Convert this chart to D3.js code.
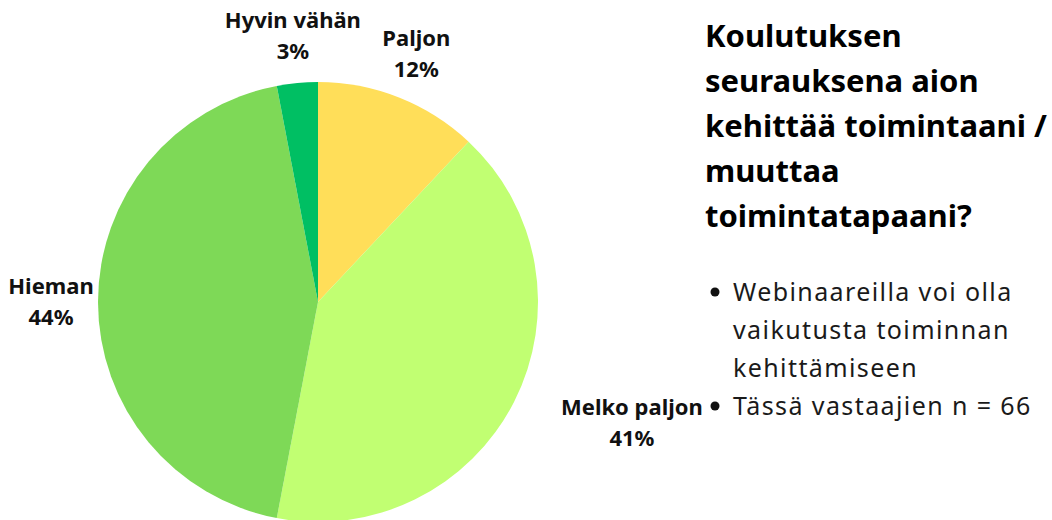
<!DOCTYPE html>
<html>
<head>
<meta charset="utf-8">
<script src="https://cdn.jsdelivr.net/npm/d3@7"></script>
<style>
  html, body { margin: 0; padding: 0; background: #fff; }
  svg { display: block; }
  .lbl { font-family: "Noto Sans", sans-serif; font-weight: 700; font-size: 22px; fill: #111; }
  .title { font-family: "Noto Sans", sans-serif; font-weight: 700; font-size: 31px; fill: #000; }
  .bullet { font-family: "Noto Sans", sans-serif; font-weight: 400; font-size: 25px; letter-spacing: 1.4px; fill: #1a1a1a; }
</style>
</head>
<body>
<svg id="chart" width="1052" height="520"></svg>
<script>
"use strict";

// data
const categories = ["Paljon", "Melko paljon", "Hieman", "Hyvin vähän"];
const shares = [12, 41, 44, 3];
const colors = ["#FFDE59", "#C1FF72", "#7ED957", "#00BF63"];
const titleLines = ["Koulutuksen", "seurauksena aion", "kehittää toimintaani /", "muuttaa", "toimintatapaani?"];
const bulletLines = [
    ["Webinaareilla voi olla", "vaikutusta toiminnan", "kehittämiseen"],
    ["Tässä vastaajien n = 66"],
];

const radius = 220;
const cx = 318, cy = 302;

const svg = d3.select("#chart");

const rows = categories.map((name, i) => ({name, value: shares[i], color: colors[i]}));

const pie = d3.pie()
    .value(d => d.value)
    .sort(null);

const arc = d3.arc().innerRadius(0).outerRadius(radius);
const labelArc = d3.arc().innerRadius(267).outerRadius(267);

// wide label on the right gets pushed clear of the pie
const labelNudge = {"Melko paljon": 76};

const g = svg.append("g").attr("transform", `translate(${cx},${cy})`);

const arcs = pie(rows);

g.selectAll("path.slice")
    .data(arcs)
    .join("path")
    .classed("slice", true)
    .attr("d", arc)
    .attr("fill", d => d.data.color);

const labels = g.selectAll("g.label")
    .data(arcs)
    .join("g")
    .classed("label", true)
    .attr("transform", d => {
        const [x, y] = labelArc.centroid(d);
        return `translate(${x + (labelNudge[d.data.name] || 0)},${y})`;
    });

labels.append("text")
    .classed("lbl", true)
    .attr("text-anchor", "middle")
    .attr("y", -8)
    .text(d => d.data.name);

labels.append("text")
    .classed("lbl", true)
    .attr("text-anchor", "middle")
    .attr("y", 23)
    .text(d => `${d.value}%`);

// title block
const title = svg.append("text")
    .classed("title", true)
    .attr("x", 705)
    .attr("y", 47);
title.selectAll("tspan")
    .data(titleLines)
    .join("tspan")
    .attr("x", 705)
    .attr("dy", (d, i) => i === 0 ? 0 : 45)
    .text(d => d);

// bullets
const bulletG = svg.append("g");
let lineY = 301;
const lineStep = 38;
bulletLines.forEach(lines => {
    bulletG.append("circle")
        .attr("cx", 715)
        .attr("cy", lineY - 9)
        .attr("r", 4.5)
        .attr("fill", "#111");
    lines.forEach(t => {
        bulletG.append("text")
            .classed("bullet", true)
            .attr("x", 733)
            .attr("y", lineY)
            .text(t);
        lineY += lineStep;
    });
});
</script>
</body>
</html>
